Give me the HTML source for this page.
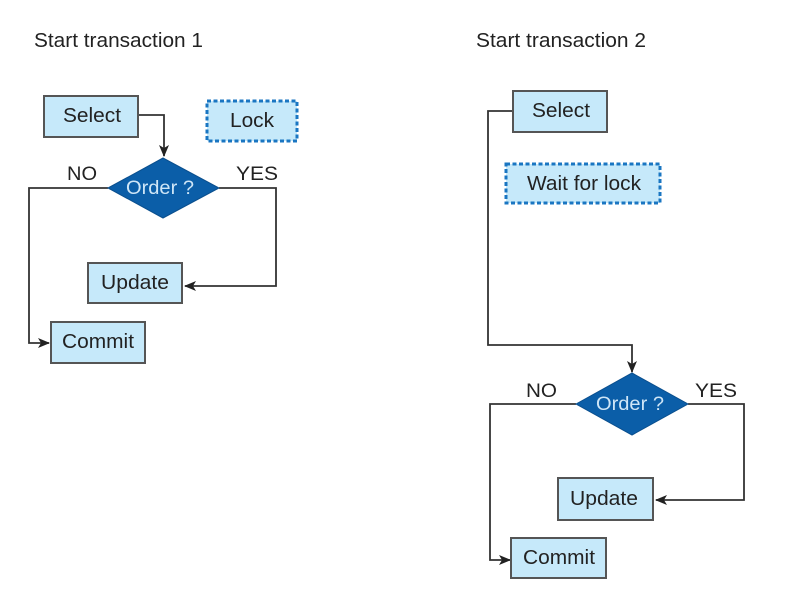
<!DOCTYPE html>
<html><head><meta charset="utf-8"><style>
html,body{margin:0;padding:0;background:#fff;}
svg{display:block;}
text{font-family:"Liberation Sans",Arial,sans-serif;}
</style></head><body>
<svg width="808" height="592" viewBox="0 0 808 592" xmlns="http://www.w3.org/2000/svg">
<defs>
<marker id="a" markerWidth="12" markerHeight="10" refX="11" refY="5" orient="auto" markerUnits="userSpaceOnUse">
<path d="M0,0 L12,5 L0,10 L3,5 Z" fill="#222"/>
</marker>
</defs>
<rect width="808" height="592" fill="#fff"/>
<g font-size="20" fill="#222">
<text x="34" y="47" textLength="169" lengthAdjust="spacingAndGlyphs">Start transaction 1</text>
<text x="476" y="47" textLength="170" lengthAdjust="spacingAndGlyphs">Start transaction 2</text>
</g>
<g fill="none" stroke="#333" stroke-width="1.8">
<polyline points="138,115 164,115 164,156" marker-end="url(#a)"/>
<polyline points="108,188 29,188 29,343 49,343" marker-end="url(#a)"/>
<polyline points="219,188 276,188 276,286 185,286" marker-end="url(#a)"/>
<polyline points="512,111 488,111 488,345 632,345 632,372" marker-end="url(#a)"/>
<polyline points="576,404 490,404 490,560 510,560" marker-end="url(#a)"/>
<polyline points="688,404 744,404 744,500 656,500" marker-end="url(#a)"/>
</g>
<g fill="#c6e9fa" stroke="#555" stroke-width="2">
<rect x="44" y="96" width="94" height="41"/>
<rect x="88" y="263" width="94" height="40"/>
<rect x="51" y="322" width="94" height="41"/>
<rect x="513" y="91" width="94" height="41"/>
<rect x="558" y="478" width="95" height="42"/>
<rect x="511" y="538" width="95" height="40"/>
</g>
<g fill="#c6e9fa" stroke="#1a76c2" stroke-width="3" stroke-dasharray="4,2.5">
<rect x="207" y="101" width="90" height="40"/>
<rect x="506" y="164" width="154" height="39"/>
</g>
<g fill="#0b5ea8" stroke="#0a4f8e" stroke-width="1">
<polygon points="108,188 163,158 219,188 163,218"/>
<polygon points="576,404 632,373 688,404 632,435"/>
</g>
<g font-size="20" fill="#222" text-anchor="middle">
<text x="92" y="122" textLength="58" lengthAdjust="spacingAndGlyphs">Select</text>
<text x="252" y="127" textLength="44" lengthAdjust="spacingAndGlyphs">Lock</text>
<text x="135" y="289" textLength="68" lengthAdjust="spacingAndGlyphs">Update</text>
<text x="98" y="348" textLength="72" lengthAdjust="spacingAndGlyphs">Commit</text>
<text x="561" y="117" textLength="58" lengthAdjust="spacingAndGlyphs">Select</text>
<text x="584" y="190" textLength="114" lengthAdjust="spacingAndGlyphs">Wait for lock</text>
<text x="604" y="505" textLength="68" lengthAdjust="spacingAndGlyphs">Update</text>
<text x="559" y="564" textLength="72" lengthAdjust="spacingAndGlyphs">Commit</text>
</g>
<g font-size="19" fill="#222">
<text x="67" y="180" textLength="30" lengthAdjust="spacingAndGlyphs">NO</text>
<text x="236" y="180" textLength="42" lengthAdjust="spacingAndGlyphs">YES</text>
<text x="526" y="397" textLength="31" lengthAdjust="spacingAndGlyphs">NO</text>
<text x="695" y="397" textLength="42" lengthAdjust="spacingAndGlyphs">YES</text>
</g>
<g font-size="19" fill="#cfe6f7" text-anchor="middle">
<text x="160" y="194" textLength="68" lengthAdjust="spacingAndGlyphs">Order ?</text>
<text x="630" y="410" textLength="68" lengthAdjust="spacingAndGlyphs">Order ?</text>
</g>
</svg>
</body></html>
